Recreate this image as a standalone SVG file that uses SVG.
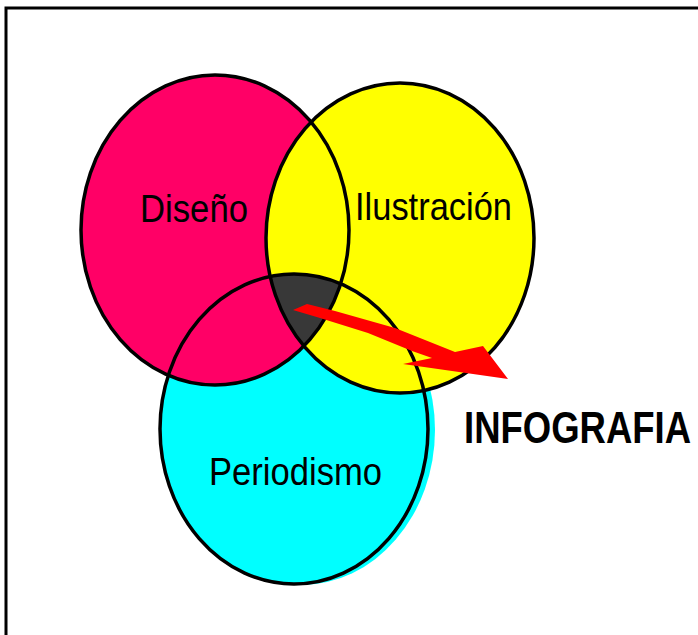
<svg xmlns="http://www.w3.org/2000/svg" width="698" height="635" viewBox="0 0 698 635">
<style>
.lbl{font-family:"Liberation Sans",Arial,sans-serif;font-size:39px;fill:#000}
.big{font-family:"Liberation Sans",Arial,sans-serif;font-size:36.5px;font-weight:bold;fill:#000}
.ol{fill:none;stroke:#000;stroke-width:3.5}
</style>
<defs>
<clipPath id="cpPink"><ellipse cx="215" cy="230" rx="134" ry="155"/></clipPath>
<clipPath id="cpYellow"><ellipse cx="400" cy="238" rx="134" ry="155"/></clipPath>
</defs>
<rect width="698" height="635" fill="#fff"/>
<path d="M6,635 V8 H698" fill="none" stroke="#000" stroke-width="3"/>
<g id="periodismo-fill">
<ellipse cx="301" cy="430" rx="134" ry="155" fill="#00ffff"/>
<ellipse cx="294" cy="429" rx="134" ry="155" fill="#00ffff"/>
</g>
<g id="diseno-fill"><ellipse cx="215" cy="230" rx="134" ry="155" fill="#ff0066"/></g>
<g id="ilustracion-fill"><ellipse cx="400" cy="238" rx="134" ry="155" fill="#ffff00"/></g>
<g id="interseccion" clip-path="url(#cpPink)">
<g clip-path="url(#cpYellow)"><ellipse cx="294" cy="429" rx="134" ry="155" fill="#383838"/></g>
</g>
<g id="outlines">
<ellipse class="ol" cx="215" cy="230" rx="134" ry="155"/>
<ellipse class="ol" cx="400" cy="238" rx="134" ry="155"/>
<ellipse class="ol" cx="294" cy="429" rx="134" ry="155"/>
</g>
<g id="connectors">
<polygon points="293,310 307,304 335,311 395,328 455,352 483,346 508,379 403,364 432,358 412,351 368,333 320,318" fill="#ff0000"/>
</g>
<g id="diseno"><text class="lbl" x="140" y="222" textLength="108" lengthAdjust="spacingAndGlyphs">Diseño</text></g>
<g id="ilustracion"><text class="lbl" x="355" y="220" textLength="157" lengthAdjust="spacingAndGlyphs">Ilustración</text></g>
<g id="periodismo"><text class="lbl" x="209" y="485" textLength="173" lengthAdjust="spacingAndGlyphs">Periodismo</text></g>
<g id="infografia"><text class="big" transform="translate(464,443) scale(1,1.23)" x="0" y="0">INFOGRAFIA</text></g>
</svg>
